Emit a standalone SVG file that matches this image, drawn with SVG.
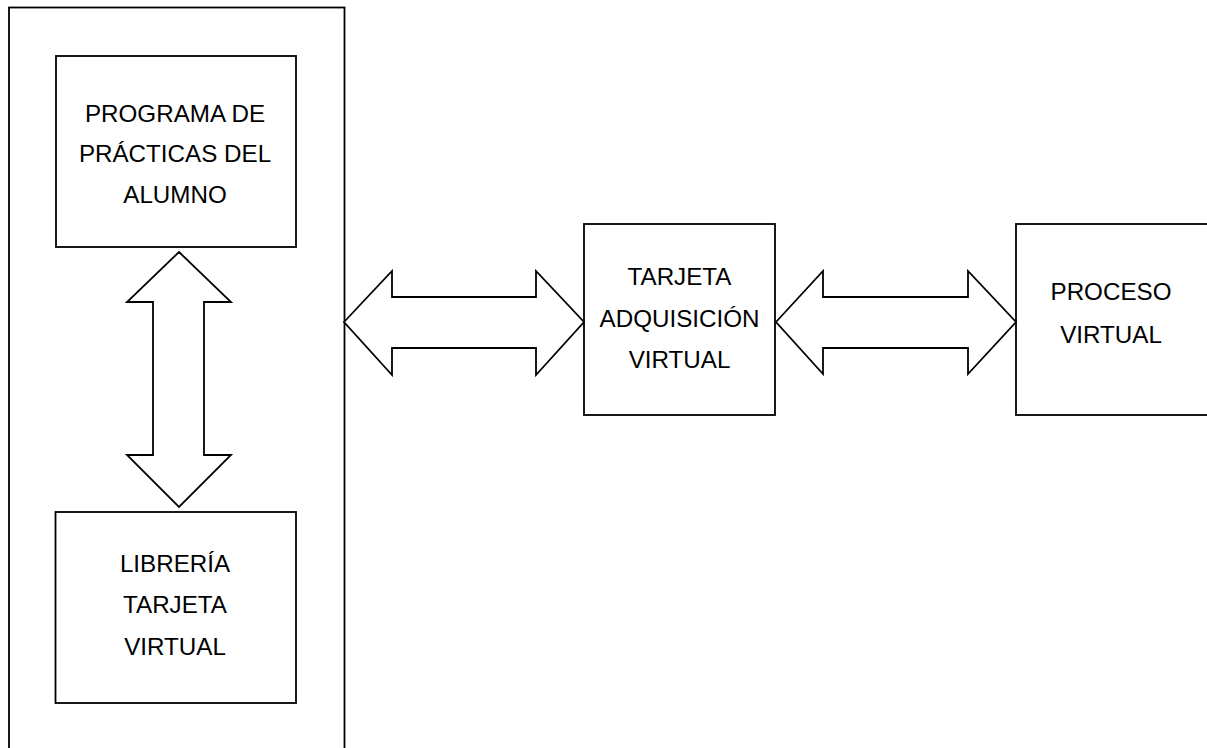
<svg xmlns="http://www.w3.org/2000/svg" width="1207" height="748" viewBox="0 0 1207 748">
<style>
.box{fill:#fff;stroke:#000;stroke-width:1.8}
.outer{fill:none;stroke:#000;stroke-width:1.8}
.arrow{fill:#fff;stroke:#000;stroke-width:1.8;stroke-linejoin:miter}
text{font-family:"Liberation Sans",Arial,sans-serif;font-size:24.2px;fill:#000;text-anchor:middle}
</style>
<rect width="1207" height="748" fill="#fff"/>
<g id="outer-container">
<rect class="outer" x="9" y="7.5" width="335.5" height="800"/>
</g>
<g id="programa">
<rect class="box" x="56" y="56" width="240" height="191"/>
<text x="175" y="121.5">PROGRAMA DE</text>
<text x="175" y="162">PRÁCTICAS DEL</text>
<text x="175" y="203">ALUMNO</text>
</g>
<g id="libreria">
<rect class="box" x="55.5" y="512" width="240.5" height="191"/>
<text x="175" y="571.5">LIBRERÍA</text>
<text x="175" y="613">TARJETA</text>
<text x="175" y="655">VIRTUAL</text>
</g>
<g id="tarjeta">
<rect class="box" x="584" y="224" width="191" height="191"/>
<text x="679.5" y="285">TARJETA</text>
<text x="679.5" y="327">ADQUISICIÓN</text>
<text x="679.5" y="368">VIRTUAL</text>
</g>
<g id="proceso">
<rect class="box" x="1016" y="224" width="200" height="191"/>
<text x="1111" y="300">PROCESO</text>
<text x="1111" y="342.5">VIRTUAL</text>
</g>
<g id="connectors">
<polygon class="arrow" points="179,252 231,302 204,302 204,455 231,455 179,507 127,455 153,455 153,302 127,302"/>
<polygon class="arrow" points="344,322 392,271 392,297 536,297 536,271 584,322 536,375 536,348 392,348 392,375"/>
<polygon class="arrow" points="776,322 823,271 823,297 968,297 968,271 1016,322 968,374 968,348 823,348 823,374"/>
</g>
</svg>
